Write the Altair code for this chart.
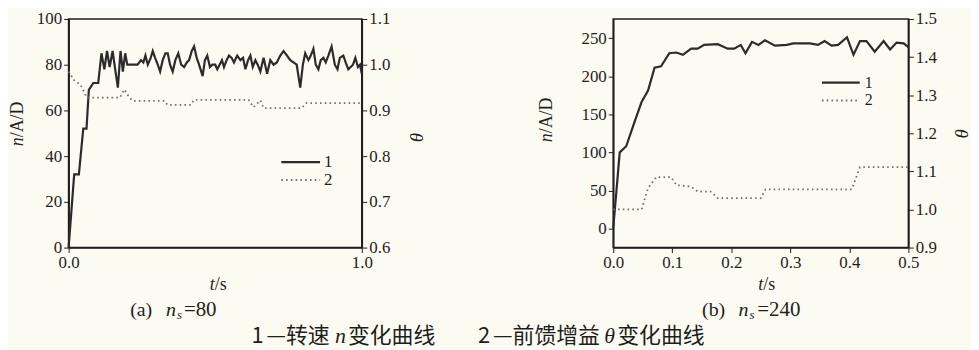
import altair as alt
import pandas as pd

# ---------------- data ----------------
# panel (a): n_s = 80
t_a = [0, 0.019, 0.035, 0.05, 0.061, 0.069, 0.084, 0.101, 0.112, 0.122, 0.131, 0.14, 0.15,
       0.16, 0.168, 0.177, 0.185, 0.193, 0.2, 0.21, 0.22, 0.235, 0.247, 0.255, 0.262, 0.27,
       0.28, 0.287, 0.295, 0.304, 0.312, 0.321, 0.33, 0.338, 0.346, 0.355, 0.364, 0.374,
       0.384, 0.394, 0.403, 0.411, 0.42, 0.428, 0.437, 0.445, 0.457, 0.465, 0.473, 0.482,
       0.49, 0.5, 0.507, 0.515, 0.523, 0.53, 0.539, 0.547, 0.556, 0.564, 0.575, 0.586,
       0.595, 0.603, 0.612, 0.62, 0.628, 0.637, 0.645, 0.654, 0.665, 0.677, 0.688, 0.699,
       0.71, 0.722, 0.733, 0.745, 0.756, 0.767, 0.778, 0.79, 0.799, 0.807, 0.818, 0.826,
       0.835, 0.843, 0.852, 0.86, 0.869, 0.877, 0.886, 0.897, 0.908, 0.917, 0.925, 0.937,
       0.945, 0.954, 0.962, 0.97, 0.978, 0.987, 0.994, 1.0]
n_a = [0, 32, 32, 52, 52, 69, 72, 72, 85, 78, 86, 79, 86,
       77, 70, 86, 77, 85, 80, 80, 80, 80, 82, 81, 84, 80,
       83, 86, 83, 80, 77, 82, 85, 85, 80, 77, 82, 85,
       80, 79, 81, 82, 86, 88, 83, 80, 75, 82, 84, 79,
       80, 80, 78, 80, 82, 79, 82, 84, 83, 81, 84, 82,
       83, 78, 82, 84, 79, 82, 80, 77, 83, 76, 82, 80,
       81, 84, 86, 84, 82, 81, 80, 70, 80, 85, 82, 84,
       87, 80, 78, 82, 83, 81, 84, 88, 80, 78, 83, 84,
       81, 78, 79, 80, 83, 79, 80, 76]
tt_a = [0, 0.02, 0.04, 0.062, 0.175, 0.19, 0.2, 0.218, 0.327, 0.337, 0.417, 0.427, 0.614,
        0.631, 0.654, 0.665, 0.795, 0.81, 1.0]
theta_a = [0.985, 0.965, 0.957, 0.928, 0.928, 0.946, 0.935, 0.921, 0.921, 0.912, 0.912, 0.923,
           0.923, 0.907, 0.922, 0.905, 0.905, 0.916, 0.916]

# panel (b): n_s = 240
t_b = [0, 0.011, 0.022, 0.037, 0.048, 0.059, 0.07, 0.081, 0.095, 0.107, 0.118, 0.132, 0.143,
       0.154, 0.177, 0.194, 0.205, 0.216, 0.224, 0.235, 0.246, 0.257, 0.274, 0.294, 0.305,
       0.333, 0.347, 0.358, 0.37, 0.381, 0.396, 0.407, 0.418, 0.429, 0.443, 0.458, 0.469,
       0.48, 0.492, 0.5]
n_b = [0, 100, 108, 142, 166, 181, 211, 213, 230, 231, 228, 236, 236,
       241, 242, 236, 236, 241, 230, 245, 241, 247, 240, 241, 243,
       243, 241, 246, 240, 241, 251, 228, 246, 246, 232, 246, 235,
       244, 243, 238]
tt_b = [0, 0.048, 0.059, 0.073, 0.098, 0.107, 0.132, 0.143, 0.165, 0.177, 0.25, 0.258,
        0.404, 0.418, 0.5]
theta_b = [1.0, 1.0, 1.056, 1.085, 1.085, 1.064, 1.06, 1.047, 1.047, 1.03, 1.03, 1.053,
           1.053, 1.111, 1.111]

# axes
xvals_a = [0.0, 1.0]
xvals_b = [0.0, 0.1, 0.2, 0.3, 0.4, 0.5]
nvals_a = [0, 20, 40, 60, 80, 100]
nvals_b = [0, 50, 100, 150, 200, 250]
thvals_a = [0.6, 0.7, 0.8, 0.9, 1.0, 1.1]
thvals_b = [0.9, 1.0, 1.1, 1.2, 1.3, 1.4, 1.5]

SERIF = "Liberation Serif"
CJK = "Noto Sans CJK SC"
INK = "#1e1e1e"
H = 230
W_A = 295
W_B = 297
one = pd.DataFrame({"k": [0]})


def txt(text, x, y, size=20, italic=False, align="center", angle=0, font=SERIF, baseline="middle"):
    kw = dict(text=text, font=font, fontSize=size, align=align, baseline=baseline, color=INK)
    if italic:
        kw["fontStyle"] = "italic"
    if angle:
        kw["angle"] = angle
    return alt.Chart(one).mark_text(**kw).encode(x=alt.value(x), y=alt.value(y))


def rule(x1, x2, y, dotted=False):
    if dotted:
        m = alt.Chart(one).mark_rule(color="#6f6f6f", strokeWidth=1.8, strokeDash=[1.6, 3.2])
    else:
        m = alt.Chart(one).mark_rule(color="#2b2b2b", strokeWidth=2.2)
    return m.encode(x=alt.value(x1), x2=alt.value(x2), y=alt.value(y))


def axis(orient, values, fmt):
    return alt.Axis(orient=orient, values=values, format=fmt, title=None, labelFlush=False,
                    labelFont=SERIF, labelFontSize=17, labelColor=INK, labelPadding=2,
                    tickSize=5, tickColor=INK, domainColor=INK, domainWidth=1.6, grid=False)


def panel(t, n, tt, th, xdom, xvals, ndom, nvals, thdom, thvals, W, extra):
    xs = alt.Scale(domain=xdom, nice=False, zero=False)
    xaxis = axis("bottom", xvals, ".1f")
    df_n = pd.DataFrame({"t": t, "n": n})
    df_th = pd.DataFrame({"t": tt, "theta": th})
    ln = alt.Chart(df_n).mark_line(color="#2b2b2b", strokeWidth=2.2).encode(
        x=alt.X("t:Q", scale=xs, axis=xaxis),
        y=alt.Y("n:Q", scale=alt.Scale(domain=ndom, nice=False, zero=False),
                axis=axis("left", nvals, "d")),
    )
    lt = alt.Chart(df_th).mark_line(color="#6f6f6f", strokeWidth=1.8, strokeDash=[1.6, 3.2]).encode(
        x=alt.X("t:Q", scale=xs, axis=xaxis),
        y=alt.Y("theta:Q", scale=alt.Scale(domain=thdom, nice=False, zero=False),
                axis=axis("right", thvals, ".1f")),
    )
    return alt.layer(ln, lt, *extra).resolve_scale(y="independent").properties(width=W, height=H)


# decorations for panel (a) (positions are relative to the panel's plot area)
extra_a = [
    rule(214, 253, 144), txt("1", 257, 144, size=17, align="left"),
    rule(214, 253, 162, dotted=True), txt("2", 257, 162, size=17, align="left"),
    txt("n", -51, 128, size=18, italic=True, angle=270, align="left"),
    txt("/A/D", -51, 119, size=18, angle=270, align="left"),
    txt("θ", 350, 119, size=19, italic=True, angle=90),
    txt("t", 147, 268, size=18, italic=True, align="right"),
    txt("/s", 147, 268, size=18, align="left"),
    txt("(a)", 73, 293),
    txt("n", 98, 293, italic=True, align="left"),
    txt("s", 109, 298, size=13, italic=True, align="left"),
    txt("=80", 116, 293, size=21, align="left"),
    txt("1", 184, 319, size=22, font=CJK, align="left"),
    txt("—转速", 199, 319, size=22, font=CJK, align="left"),
    txt("n", 268, 319, size=22, italic=True, align="left"),
    txt("变化曲线", 281, 319, size=22, font=CJK, align="left"),
    txt("2", 412, 319, size=22, font=CJK, align="left"),
    txt("—前馈增益", 427, 319, size=22, font=CJK, align="left"),
    txt("θ", 539, 319, size=22, italic=True, align="left"),
    txt("变化曲线", 552, 319, size=22, font=CJK, align="left"),
]

extra_b = [
    rule(210, 248, 64), txt("1", 253, 64, size=16, align="left"),
    rule(210, 248, 82, dotted=True), txt("2", 253, 82, size=16, align="left"),
    txt("n", -67, 124, size=18, italic=True, angle=270, align="left"),
    txt("/A/D", -67, 115, size=18, angle=270, align="left"),
    txt("θ", 350, 115, size=19, italic=True, angle=90),
    txt("t", 151, 268, size=18, italic=True, align="right"),
    txt("/s", 151, 268, size=18, align="left"),
    txt("(b)", 101, 293),
    txt("n", 126, 293, italic=True, align="left"),
    txt("s", 137, 298, size=13, italic=True, align="left"),
    txt("=240", 145, 293, size=21, align="left"),
]

pa = panel(t_a, n_a, tt_a, theta_a, [0, 1.0], xvals_a, [0, 100], nvals_a,
           [0.6, 1.1], thvals_a, W_A, extra_a)
pb = panel(t_b, n_b, tt_b, theta_b, [0, 0.5], xvals_b, [-25, 275], nvals_b,
           [0.9, 1.5], thvals_b, W_B, extra_b)

chart = (
    alt.hconcat(pa, pb, spacing=253, bounds="flush")
    .properties(padding={"left": 0, "top": 0, "right": 0, "bottom": 0}, background="#fbfbf1")
    .configure_view(stroke="#1e1e1e", strokeWidth=1.6)
    .configure_axis(grid=False, labelFont=SERIF, labelFontSize=17, labelColor=INK)
)

chart.save("out.html", embed_options={"renderer": "svg", "actions": False})
